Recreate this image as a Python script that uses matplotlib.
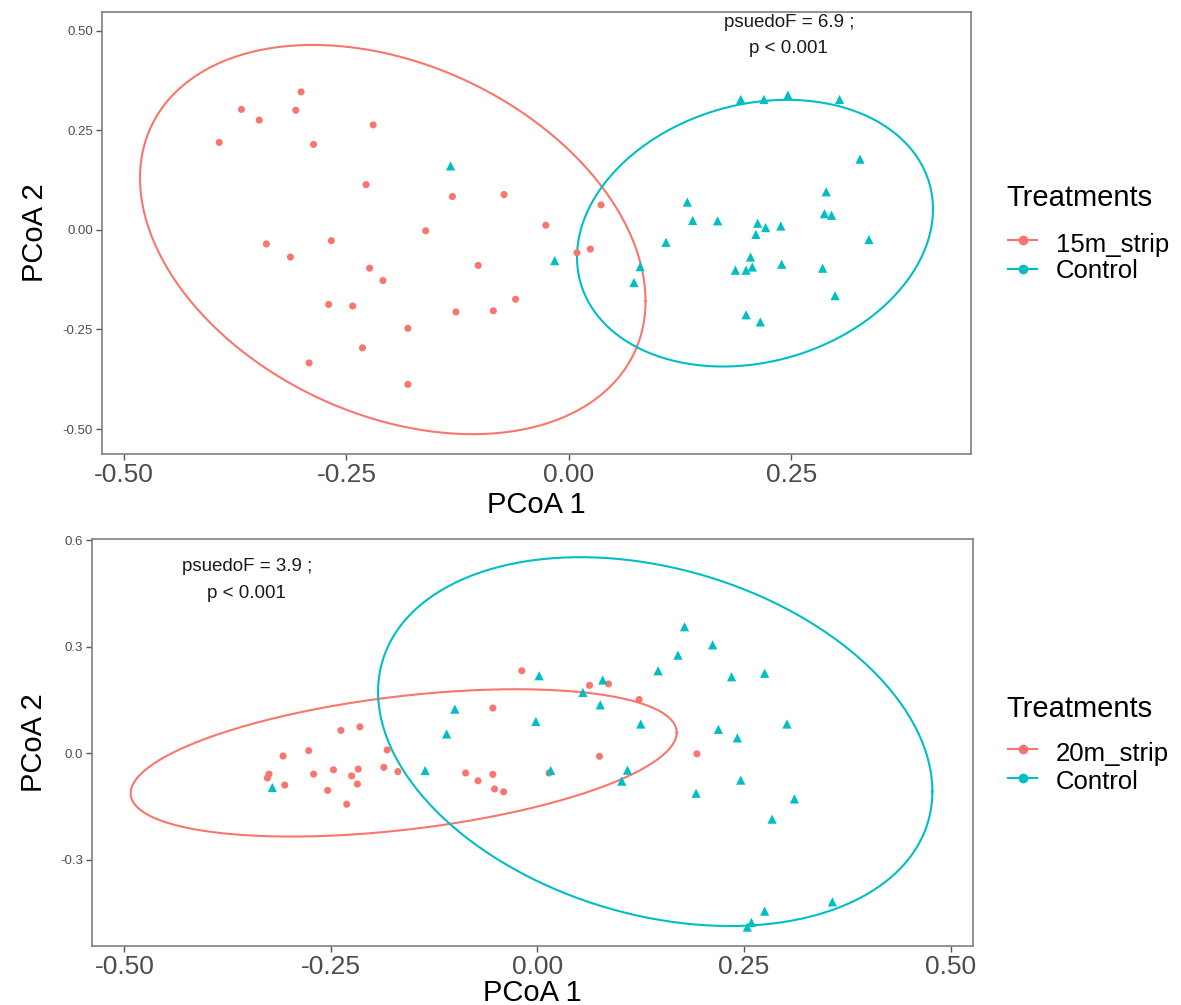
import matplotlib

matplotlib.use('Agg')
import matplotlib.pyplot as plt
import numpy as np
from matplotlib.lines import Line2D

plt.rcParams['font.family'] = ['Liberation Sans', 'DejaVu Sans']

RED = '#F8766D'
CYAN = '#00BFC4'

# ---- 上图：15m_strip vs Control ----
top_strip_x = [-0.301, -0.368, -0.307, -0.348, -0.220, -0.393, -0.287, -0.228, -0.131, -0.073,
               -0.026, -0.161, -0.340, -0.267, -0.313, -0.224, -0.209, -0.102, 0.009, 0.024,
               0.036, -0.270, -0.243, -0.127, -0.085, -0.060, -0.181, -0.232, -0.292, -0.181]
top_strip_y = [0.347, 0.303, 0.301, 0.276, 0.264, 0.220, 0.215, 0.114, 0.084, 0.089,
               0.012, -0.002, -0.035, -0.027, -0.068, -0.096, -0.127, -0.089, -0.057, -0.048,
               0.063, -0.187, -0.191, -0.206, -0.203, -0.174, -0.247, -0.296, -0.334, -0.388]
top_ctrl_x = [-0.133, -0.016, 0.193, 0.219, 0.246, 0.304, 0.327, 0.289, 0.133, 0.139,
              0.167, 0.287, 0.295, 0.212, 0.221, 0.238, 0.210, 0.337, 0.109, 0.080,
              0.073, 0.204, 0.187, 0.199, 0.206, 0.239, 0.285, 0.299, 0.199, 0.215]
top_ctrl_y = [0.161, -0.077, 0.328, 0.328, 0.339, 0.328, 0.178, 0.096, 0.070, 0.024,
              0.023, 0.041, 0.037, 0.017, 0.006, 0.010, -0.011, -0.024, -0.031, -0.092,
              -0.132, -0.068, -0.101, -0.101, -0.093, -0.086, -0.096, -0.165, -0.213, -0.231]

# ---- 下图：20m_strip vs Control ----
bot_strip_x = [-0.019, -0.054, -0.238, -0.215, -0.277, -0.308, -0.182, -0.325, -0.327, -0.306,
               -0.271, -0.247, -0.225, -0.217, -0.218, -0.254, -0.231, -0.186, -0.169, -0.087,
               -0.072, -0.054, -0.052, -0.041, 0.014, 0.063, 0.086, 0.123, 0.075, 0.193]
bot_strip_y = [0.233, 0.128, 0.065, 0.075, 0.008, -0.007, 0.010, -0.058, -0.069, -0.089,
               -0.058, -0.046, -0.063, -0.044, -0.086, -0.104, -0.143, -0.039, -0.051, -0.055,
               -0.077, -0.059, -0.100, -0.108, -0.055, 0.192, 0.196, 0.152, -0.008, -0.001]
bot_ctrl_x = [-0.321, -0.136, -0.110, -0.100, 0.002, -0.002, 0.016, 0.055, 0.079, 0.076,
              0.125, 0.109, 0.102, 0.178, 0.212, 0.170, 0.146, 0.235, 0.275, 0.219,
              0.242, 0.302, 0.246, 0.192, 0.311, 0.284, 0.357, 0.275, 0.259, 0.254]
bot_ctrl_y = [-0.096, -0.048, 0.055, 0.125, 0.219, 0.090, -0.048, 0.172, 0.207, 0.137,
              0.083, -0.047, -0.078, 0.357, 0.306, 0.277, 0.233, 0.216, 0.226, 0.068,
              0.044, 0.083, -0.075, -0.112, -0.128, -0.185, -0.418, -0.444, -0.476, -0.489]

# 95% 置信椭圆：中心 x, 中心 y, x 半幅, y 半幅, 最右点处 y 偏移 / y 半幅
top_strip_ell = (-0.198, -0.024, 0.284, 0.489, -0.316)
top_ctrl_ell = (0.209, -0.008, 0.200, 0.335, 0.18)
bot_strip_ell = (-0.162, -0.0265, 0.3305, 0.2075, 0.412)
bot_ctrl_ell = (0.1425, 0.0335, 0.3355, 0.5195, -0.27)

W, H = 1181, 1005


def ellipse_xy(cx, cy, rx, ry, k, n=300):
    t = np.linspace(0, 2 * np.pi, n)
    phi = np.arccos(k)
    return cx + rx * np.cos(t), cy + ry * np.cos(t + phi)


def draw_legend(fig, label, top_px):
    # ggplot 风格图例：标题 + 线段/圆点键
    fig.text(1006 / W, 1 - top_px / H, 'Treatments', fontsize=21, ha='left', va='baseline')
    for i, (c, txt) in enumerate([(RED, label), (CYAN, 'Control')]):
        key_y = 1 - (top_px + 33 + 29 * i) / H
        fig.add_artist(Line2D([1008 / W, 1037 / W], [key_y, key_y], color=c, lw=1.5,
                              transform=fig.transFigure))
        fig.add_artist(Line2D([1022.5 / W], [key_y], color=c, marker='o', markersize=6,
                              lw=0, transform=fig.transFigure))
        fig.text(1056 / W, 1 - (top_px + 45 + 27 * i) / H, txt, fontsize=18.5,
                 ha='left', va='baseline')


def draw_panel(ax, strip, ctrl, ells, stat_xy, stat_lines, xlim, ylim,
               xticks, yticks, yfmt, xlabelpad, ylabelpad):
    for ell, c in zip(ells, [RED, CYAN]):
        ex, ey = ellipse_xy(*ell)
        ax.plot(ex, ey, color=c, lw=1.5, zorder=2)
    ax.scatter(strip[0], strip[1], s=26, marker='o', color=RED, edgecolors='none', zorder=3)
    ax.scatter(ctrl[0], ctrl[1], s=44, marker='^', color=CYAN, edgecolors='none', zorder=3)

    ax.set_xlim(*xlim)
    ax.set_ylim(*ylim)
    ax.set_xticks(xticks)
    ax.set_xticklabels([f'{v:.2f}' for v in xticks], fontsize=19, color='#4D4D4D')
    ax.set_yticks(yticks)
    ax.set_yticklabels([yfmt.format(v) for v in yticks], fontsize=9.5, color='#4D4D4D')
    ax.tick_params(length=4.5, width=1.0, color='#555555', pad=2)
    for sp in ax.spines.values():
        sp.set_color('#7F7F7F')
        sp.set_linewidth(1.2)
    ax.set_xlabel('PCoA 1', fontsize=21, labelpad=xlabelpad)
    ax.set_ylabel('PCoA 2', fontsize=21, labelpad=ylabelpad)

    for (sx, sy), txt in zip(stat_xy, stat_lines):
        ax.text(sx, sy, txt, ha='center', va='center', fontsize=13.5, color='#1A1A1A')


fig = plt.figure(figsize=(W / 100, H / 100), dpi=100)
ax1 = fig.add_axes([102 / W, 1 - 454 / H, 869 / W, 442 / H])
ax2 = fig.add_axes([92 / W, 1 - 946 / H, 881 / W, 407 / H])

draw_panel(ax1, (top_strip_x, top_strip_y), (top_ctrl_x, top_ctrl_y),
           [top_strip_ell, top_ctrl_ell],
           [(0.247, 0.521), (0.247, 0.455)], ['psuedoF = 6.9 ;', 'p < 0.001'],
           (-0.5247, 0.4517), (-0.5628, 0.5477),
           [-0.5, -0.25, 0.0, 0.25], [-0.5, -0.25, 0.0, 0.25, 0.5], '{:.2f}', 3, 10)
draw_legend(fig, '15m_strip', 206.5)

draw_panel(ax2, (bot_strip_x, bot_strip_y), (bot_ctrl_x, bot_ctrl_y),
           [bot_strip_ell, bot_ctrl_ell],
           [(-0.352, 0.526), (-0.352, 0.452)], ['psuedoF = 3.9 ;', 'p < 0.001'],
           (-0.5393, 0.5272), (-0.5423, 0.6042),
           [-0.5, -0.25, 0.0, 0.25, 0.5], [-0.3, 0.0, 0.3, 0.6], '{:.1f}', 0, 9)
draw_legend(fig, '20m_strip', 716.5)

fig.savefig('out.png', dpi=100)
